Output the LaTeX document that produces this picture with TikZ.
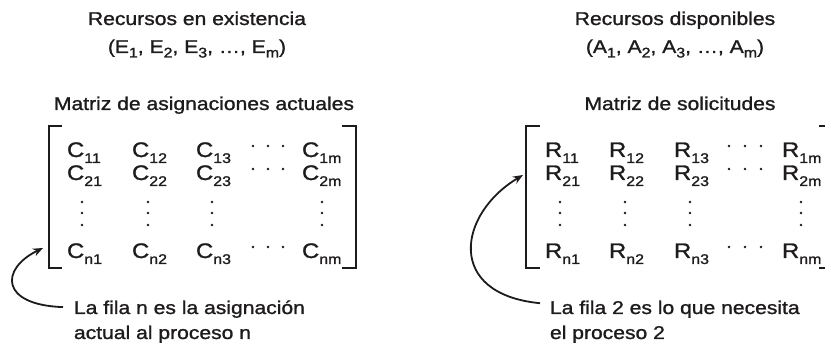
\documentclass[tikz,border=0pt]{standalone}
\usepackage{fontspec}
\setmainfont{Liberation Sans}[FakeStretch=1.14,FakeBold=1.2]
\usetikzlibrary{arrows.meta}
\definecolor{ink}{RGB}{30,27,28}
\newcommand{\msub}[1]{\raisebox{-6pt}{\fontsize{14}{14}\selectfont #1}}
\newcommand{\tsub}[1]{\raisebox{-4.5pt}{\fontsize{14}{14}\selectfont #1}}
\begin{document}
\begin{tikzpicture}[x=1pt,y=1pt,
  every node/.style={inner sep=0pt, outer sep=0pt, text=ink},
  title/.style={font=\fontsize{18.5}{22}\selectfont, anchor=base},
  entry/.style={font=\fontsize{21}{21}\selectfont, anchor=base west},
  note/.style={font=\fontsize{18.5}{22}\selectfont, anchor=base west},
  brk/.style={draw=ink, line width=1.2pt},
  dotc/.style={fill=ink, draw=none, circle, minimum size=2.6pt},
  arr/.style={draw=ink, line width=1.8pt, -{Stealth[length=10pt,width=8pt]}}]
\useasboundingbox (0,0) rectangle (825,344);
\clip (0,0) rectangle (825,344);

% ---------- left side ----------
\node[title] (tE) at (197,319) {Recursos en existencia};
\node[title] (tE2) at (197,291) {(E\tsub{1}, E\tsub{2}, E\tsub{3}, …, E\tsub{m})};
\node[title] (tC) at (204,234) {Matriz de asignaciones actuales};

\foreach \r/\y in {1/187, 2/164, n/86}{
  \node[entry] (c\r1) at (67,\y) {C\msub{\r1}};
  \node[entry] (c\r2) at (132,\y) {C\msub{\r2}};
  \node[entry] (c\r3) at (196,\y) {C\msub{\r3}};
  \node[entry] (c\r m) at (302,\y) {C\msub{\r m}};
}
\foreach \y in {198,175,97}{
  \foreach \x in {253,268,283}{\node[dotc] at (\x,\y) {};}
}
\foreach \x in {82,148,212,322}{
  \foreach \y in {142,131,119}{\node[dotc] at (\x,\y) {};}
}
\draw[brk] (62,218) -- (49,218) -- (49,76) -- (62,76);
\draw[brk] (342,218) -- (356,218) -- (356,76) -- (342,76);

\node[note] (nL1) at (74,30) {La fila n es la asignación};
\node[note] (nL2) at (74,5) {actual al proceso n};
\coordinate (tipL) at (43,96);
\draw[arr] ([xshift=-11pt,yshift=2pt]nL1.west) .. controls (0,39) and (0,75) .. (tipL);

% ---------- right side ----------
\node[title] (tA) at (675,319) {Recursos disponibles};
\node[title] (tA2) at (675,291) {(A\tsub{1}, A\tsub{2}, A\tsub{3}, …, A\tsub{m})};
\node[title] (tR) at (680,234) {Matriz de solicitudes};

\foreach \r/\y in {1/187, 2/164, n/86}{
  \node[entry] (r\r1) at (545,\y) {R\msub{\r1}};
  \node[entry] (r\r2) at (609,\y) {R\msub{\r2}};
  \node[entry] (r\r3) at (674,\y) {R\msub{\r3}};
  \node[entry] (r\r m) at (782,\y) {R\msub{\r m}};
}
\foreach \y in {198,175,97}{
  \foreach \x in {729,745,761}{\node[dotc] at (\x,\y) {};}
}
\foreach \x in {560,625,690,801}{
  \foreach \y in {142,131,119}{\node[dotc] at (\x,\y) {};}
}
\draw[brk] (540,218) -- (526,218) -- (526,76) -- (540,76);
\draw[brk] (819,218) -- (833,218) -- (833,76) -- (819,76);

\node[note] (nR1) at (550,30) {La fila 2 es lo que necesita};
\node[note] (nR2) at (550,5) {el proceso 2};
\coordinate (tipR) at (523,169);
\draw[arr] ([xshift=-10pt,yshift=6pt]nR1.west) .. controls (445,50) and (458,130) .. (tipR);
\end{tikzpicture}
\end{document}
